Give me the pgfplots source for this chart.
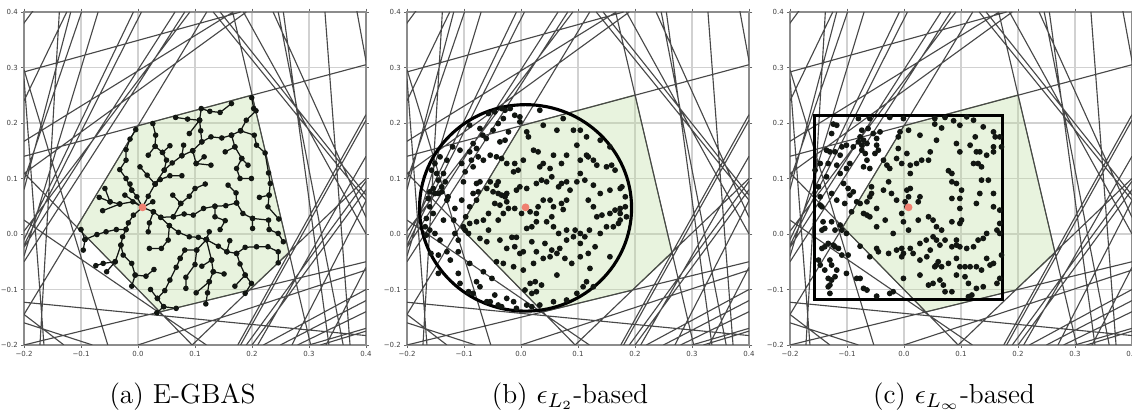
\documentclass[border=0pt]{standalone}
\usepackage{fontspec}
\newfontfamily\ticksf{DejaVu Sans}
\usepackage{pgfplots}
\pgfplotsset{compat=1.18}

\definecolor{cline}{RGB}{72,72,72}
\definecolor{polyg}{RGB}{190,220,160}
\definecolor{polyedge}{RGB}{110,130,95}
\definecolor{dotc}{RGB}{18,22,18}
\definecolor{salmon}{RGB}{240,128,112}

\pgfplotsset{
  panel/.style={
    scale only axis, width=136.8pt, height=133.2pt, anchor=south west,
    xmin=-0.2, xmax=0.4, ymin=-0.2, ymax=0.4,
    xtick={-0.2,-0.1,0,0.1,0.2,0.3,0.4}, ytick={-0.2,-0.1,0,0.1,0.2,0.3,0.4},
    xticklabels={−0.2,−0.1,0.0,0.1,0.2,0.3,0.4},
    yticklabels={−0.2,−0.1,0.0,0.1,0.2,0.3,0.4},
    grid=major, major grid style={black!18, line width=0.45pt},
    tick align=outside, major tick length=1.3pt,
    tick style={black!60, line width=0.3pt},
    axis line style={black!45, line width=0.45pt},
    ticklabel style={font=\ticksf\fontsize{2.8}{3}\selectfont, text=black!75, inner sep=1pt},
  },
}

% the same half-planes in every panel
\newcommand{\constraints}{%
\addplot[cline, line width=0.45pt, unbounded coords=jump] coordinates {
(-0.25,0.31) (-0.15,0.45) (nan,nan)
(-0.2,0.292) (0.18,0.4) (nan,nan)
(-0.2,0.167) (0.167,0.4) (nan,nan)
(-0.2,0.109) (0.19,0.4) (nan,nan)
(-0.2,0.14) (0.4,0.305) (nan,nan)
(-0.2,0.24) (-0.125,0.4) (nan,nan)
(-0.2,0.097) (-0.099,0.4) (nan,nan)
(-0.2,0.08) (-0.118,0.4) (nan,nan)
(-0.2,-0.04) (-0.07,0.4) (nan,nan)
(-0.2,-0.01) (-0.008,0.4) (nan,nan)
(-0.2,-0.02) (0.006,0.4) (nan,nan)
(-0.2,-0.024) (0.065,0.4) (nan,nan)
(-0.2,-0.05) (0.082,0.4) (nan,nan)
(-0.2,0.005) (0.091,0.4) (nan,nan)
(-0.2,-0.145) (0.1206,0.4) (nan,nan)
(-0.138,0.4) (-0.172,-0.2) (nan,nan)
(-0.2,0.296) (-0.053,-0.2) (nan,nan)
(-0.2,0.28) (-0.165,-0.2) (nan,nan)
(-0.2,0.11) (0.095,-0.2) (nan,nan)
(-0.2,0.025) (0.12,-0.2) (nan,nan)
(-0.2,-0.145) (-0.13,-0.2) (nan,nan)
(-0.2,-0.16) (-0.08,-0.2) (nan,nan)
(-0.2,-0.2) (0.4,-0.05) (nan,nan)
(-0.2,-0.123) (0.4,-0.183) (nan,nan)
(0.095,-0.2) (0.4,0.1) (nan,nan)
(0.166,0.4) (0.303,-0.2) (nan,nan)
(0.328,0.4) (0.372,-0.2) (nan,nan)
(0.37,0.48) (0.42,0.2) (nan,nan)
(0.132,0.4) (0.4,0.061) (nan,nan)
(0.144,0.4) (0.4,0.07) (nan,nan)
(0.237,0.4) (0.4,0.03) (nan,nan)
(0.246,0.4) (0.36,-0.2) (nan,nan)
(0.185,0.4) (0.4,0.0) (nan,nan)
(0.255,0.4) (0.335,-0.2) (nan,nan)
(0.175,-0.2) (0.4,0.215) (nan,nan)
(0.18,-0.2) (0.4,0.205) (nan,nan)
(0.19,-0.2) (0.4,0.095) (nan,nan)
(0.2,-0.2) (0.4,0.08) (nan,nan)
(0.21,-0.2) (0.4,0.14) (nan,nan)
(0.0,-0.2) (0.4,-0.065) (nan,nan)
(0.22,-0.2) (0.4,-0.1) (nan,nan)
(0.25,-0.2) (0.4,-0.12) (nan,nan)
(0.28,-0.2) (0.4,-0.14) (nan,nan)
(0.32,-0.2) (0.4,-0.175) (nan,nan)
(0.3,-0.2) (0.4,-0.17) (nan,nan)
(0.27,-0.2) (0.4,0.06) (nan,nan)
(0.33,-0.2) (0.4,-0.06)
};}

\newcommand{\feasible}{%
\addplot[fill=polyg, fill opacity=0.35, draw=polyedge, line width=0.4pt] coordinates {
(-0.1073,0.0126) (0.0,0.195) (0.2,0.2505) (0.265,-0.034) (0.1955,-0.101) (0.0383,-0.1404)
} -- cycle;}

\newcommand{\rootpt}{%
\addplot[only marks, mark=*, mark size=1.35pt, color=salmon] coordinates {(0.008,0.048)};}

\begin{document}
\begin{tikzpicture}
\useasboundingbox (0,0) rectangle (452.8pt,164.8pt);

% (a) tree
\begin{axis}[panel, at={(9.6pt,26.8pt)}]
\feasible
\constraints
\addplot[dotc, line width=0.5pt, unbounded coords=jump, mark=*, mark size=0.85pt,
  mark options={solid, fill=dotc, draw=dotc}] coordinates {
(0.008,0.048) (0.018,0.068) (0.030,0.090) (0.046,0.115) (0.060,0.128) (0.077,0.141) (0.096,0.150) (0.112,0.166) (0.128,0.175) (0.147,0.173) (0.164,0.178) (0.180,0.186) (0.190,0.205) (0.207,0.222) (0.203,0.226) (0.1995,0.2456) (nan,nan)
(0.112,0.166) (0.110,0.186) (0.108,0.205) (0.111,0.226) (0.126,0.221) (0.144,0.219) (0.164,0.235) (nan,nan)
(0.108,0.205) (0.087,0.207) (0.066,0.210) (nan,nan)
(0.108,0.205) (0.090,0.181) (nan,nan)
(0.096,0.150) (0.102,0.127) (0.116,0.139) (nan,nan)
(0.102,0.127) (0.128,0.124) (nan,nan)
(0.077,0.141) (0.080,0.160) (nan,nan)
(0.030,0.090) (0.039,0.098) (0.056,0.105) (0.077,0.105) (nan,nan)
(0.030,0.090) (0.016,0.106) (0.0035,0.121) (nan,nan)
(0.180,0.186) (0.204,0.178) (0.208,0.160) (0.223,0.146) (0.229,0.110) (0.232,0.091) (0.230,0.070) (0.228,0.049) (0.247,0.027) (nan,nan)
(0.230,0.070) (0.213,0.066) (nan,nan)
(0.164,0.178) (0.170,0.157) (0.153,0.148) (nan,nan)
(0.170,0.157) (0.182,0.136) (0.193,0.124) (nan,nan)
(0.182,0.136) (0.173,0.118) (0.179,0.100) (0.199,0.100) (nan,nan)
(0.046,0.115) (0.050,0.133) (0.043,0.147) (0.030,0.158) (0.031,0.178) (0.026,0.199) (nan,nan)
(0.043,0.147) (0.056,0.159) (nan,nan)
(0.030,0.158) (0.018,0.142) (nan,nan)
(0.008,0.048) (-0.002,0.067) (-0.011,0.079) (-0.021,0.100) (-0.032,0.116) (-0.021,0.133) (-0.021,0.152) (-0.014,0.171) (-0.004,0.188) (nan,nan)
(-0.011,0.079) (-0.014,0.090) (nan,nan)
(0.008,0.048) (-0.009,0.058) (-0.032,0.054) (-0.049,0.058) (-0.068,0.066) (nan,nan)
(-0.049,0.058) (-0.058,0.082) (nan,nan)
(-0.032,0.054) (-0.062,0.042) (nan,nan)
(0.008,0.048) (-0.023,0.070) (nan,nan)
(0.008,0.048) (-0.008,0.034) (-0.017,0.020) (-0.021,0.008) (-0.038,0.008) (-0.056,0.004) (-0.072,-0.001) (-0.093,-0.010) (-0.100,0.008) (nan,nan)
(-0.093,-0.010) (-0.096,-0.029) (nan,nan)
(-0.021,0.008) (-0.027,-0.005) (-0.030,-0.020) (-0.026,-0.038) (-0.011,-0.053) (-0.005,-0.074) (0.014,-0.076) (0.028,-0.064) (nan,nan)
(-0.030,-0.020) (-0.040,-0.050) (-0.055,-0.068) (nan,nan)
(-0.040,-0.050) (-0.061,-0.053) (-0.074,-0.057) (nan,nan)
(-0.005,-0.074) (-0.011,-0.094) (nan,nan)
(0.008,0.048) (0.026,0.058) (nan,nan)
(0.008,0.048) (0.027,0.040) (0.040,0.030) (0.062,0.031) (0.081,0.036) (0.097,0.034) (0.115,0.046) (0.135,0.050) (0.154,0.051) (0.173,0.056) (0.184,0.037) (0.201,0.028) (0.201,0.010) (nan,nan)
(0.173,0.056) (0.172,0.074) (0.158,0.088) (nan,nan)
(0.135,0.050) (0.135,0.031) (0.153,0.024) (0.144,0.008) (nan,nan)
(0.062,0.031) (0.075,0.055) (0.090,0.068) (0.100,0.082) (0.118,0.090) (nan,nan)
(0.075,0.055) (0.061,0.070) (nan,nan)
(0.201,0.028) (0.229,0.025) (0.230,0.008) (0.246,0.001) (0.255,-0.014) (nan,nan)
(0.027,0.040) (0.020,0.020) (0.018,0.004) (nan,nan)
(0.040,0.030) (0.055,0.015) (0.071,0.003) (0.090,-0.005) (0.106,-0.006) (0.120,-0.010) (nan,nan)
(0.120,-0.010) (0.103,-0.029) (0.082,-0.029) (0.074,-0.044) (nan,nan)
(0.120,-0.010) (0.129,-0.047) (0.132,-0.068) (0.125,-0.086) (0.122,-0.106) (0.119,-0.126) (nan,nan)
(0.125,-0.086) (0.102,-0.106) (nan,nan)
(0.132,-0.068) (0.151,-0.072) (nan,nan)
(0.129,-0.047) (0.112,-0.058) (nan,nan)
(0.120,-0.010) (0.141,-0.022) (0.156,-0.032) (0.173,-0.035) (0.179,-0.054) (0.188,-0.074) (0.199,-0.089) (0.188,-0.107) (nan,nan)
(0.188,-0.074) (0.170,-0.094) (nan,nan)
(0.156,-0.032) (0.161,-0.012) (nan,nan)
(0.173,-0.035) (0.188,-0.024) (0.208,-0.023) (0.228,-0.023) (0.246,-0.032) (0.246,-0.052) (nan,nan)
(0.120,-0.010) (0.125,0.004) (nan,nan)
(0.055,0.015) (0.053,-0.011) (0.041,-0.026) (0.020,-0.026) (nan,nan)
(0.074,-0.044) (0.067,-0.060) (0.056,-0.083) (0.047,-0.102) (0.034,-0.116) (0.045,-0.131) (0.067,-0.134) (nan,nan)
(0.034,-0.116) (0.022,-0.100) (nan,nan)
(0.045,-0.131) (0.033,-0.142) (nan,nan)
(0.103,-0.029) (0.100,-0.055) (0.084,-0.078) (0.084,-0.098)
};
\rootpt
\end{axis}
\node[anchor=base, font=\fontsize{11}{13}\selectfont] at (73pt,3.5pt) {(a) E-GBAS};

% (b) L2 ball
\begin{axis}[panel, at={(162.8pt,26.8pt)}]
\feasible
\constraints
\addplot[only marks, mark=*, mark size=0.95pt, dotc] coordinates {
(-0.057,0.217) (-0.046,0.220) (-0.034,0.226) (-0.028,0.223) (-0.019,0.226) (-0.011,0.214) (-0.002,0.211) (-0.031,0.208) (-0.040,0.199) (-0.002,0.202)
(-0.090,0.196) (-0.072,0.190) (-0.049,0.187) (-0.022,0.184) (-0.028,0.169) (-0.037,0.166) (-0.061,0.172) (-0.067,0.178) (-0.084,0.163) (-0.120,0.157)
(-0.107,0.151) (-0.090,0.148) (-0.078,0.154) (-0.075,0.139) (-0.066,0.133) (-0.054,0.142) (-0.043,0.139) (-0.034,0.136) (-0.104,0.127) (-0.098,0.112)
(-0.101,0.094) (-0.087,0.133) (-0.084,0.121) (-0.072,0.094) (-0.078,0.091) (-0.130,0.133) (-0.142,0.139) (-0.151,0.127) (-0.157,0.115) (-0.148,0.109)
(-0.136,0.109) (-0.145,0.097) (-0.133,0.094) (-0.139,0.085) (-0.154,0.082) (-0.160,0.076) (-0.151,0.073) (-0.145,0.073) (-0.139,0.076) (-0.128,0.067)
(-0.163,0.064) (-0.130,0.061) (-0.104,0.061) (-0.116,0.046) (-0.090,0.049) (-0.084,0.073) (-0.078,0.061) (-0.160,0.049) (-0.154,0.037) (-0.166,0.028)
(-0.168,0.013) (-0.160,0.007) (-0.166,-0.002) (-0.151,0.001) (-0.142,-0.011) (-0.116,0.001) (-0.110,-0.011) (-0.101,0.013) (-0.097,0.031) (-0.136,0.025)
(-0.118,0.025) (0.033,0.223) (0.074,0.208) (0.039,0.196) (0.063,0.187) (0.092,0.187) (0.104,0.187) (0.115,0.175) (0.139,0.169) (0.156,0.157)
(0.010,0.184) (0.013,0.175) (0.022,0.151) (0.030,0.148) (0.039,0.127) (-0.005,0.115) (-0.013,0.112) (-0.025,0.127) (-0.011,0.127) (0.004,0.133)
(-0.040,0.094) (-0.043,0.088) (-0.054,0.094) (-0.060,0.082) (-0.075,0.076) (-0.049,0.076) (-0.040,0.073) (-0.034,0.070) (-0.028,0.067) (-0.025,0.073)
(-0.046,0.055) (-0.037,0.052) (-0.025,0.058) (-0.008,0.079) (-0.002,0.085) (0.010,0.082) (0.027,0.091) (0.036,0.097) (0.045,0.094) (0.054,0.103)
(0.066,0.085) (0.071,0.091) (0.080,0.094) (0.086,0.079) (0.098,0.094) (0.080,0.061) (0.071,0.055) (0.074,0.044) (0.057,0.049) (0.051,0.061)
(0.039,0.061) (0.030,0.049) (0.027,0.037) (0.016,0.040) (0.001,0.037) (-0.011,0.046) (-0.022,0.046) (-0.031,0.037) (-0.040,0.025) (-0.057,0.037)
(-0.066,0.025) (-0.078,0.022) (-0.090,0.019) (-0.098,0.007) (-0.092,0.001) (-0.057,0.007) (-0.072,-0.008) (-0.060,-0.014) (-0.037,-0.011) (-0.016,-0.006)
(-0.008,-0.006) (0.010,0.010) (0.019,0.013) (0.027,0.022) (0.045,0.022) (0.054,0.031) (0.057,0.013) (0.066,0.001) (0.080,0.007) (0.095,0.007)
(0.104,0.001) (0.112,-0.005) (0.120,0.007) (0.104,-0.017) (0.092,-0.005) (0.080,-0.011) (0.068,-0.026) (0.054,-0.029) (0.042,-0.017) (0.027,-0.032)
(0.019,-0.014) (0.004,-0.032) (-0.002,-0.035) (-0.011,-0.023) (-0.025,-0.026) (-0.043,-0.050) (-0.031,-0.053) (-0.013,-0.059) (0.004,-0.065) (0.022,-0.053)
(0.039,-0.044) (0.051,-0.041) (0.063,-0.035) (0.077,-0.044) (0.089,-0.053) (0.104,-0.041) (0.118,-0.035) (0.130,-0.023) (0.139,0.001) (0.150,0.013)
(0.162,0.013) (0.171,0.019) (0.174,0.025) (0.174,0.037) (0.185,0.031) (0.183,0.049) (0.174,0.046) (0.165,0.043) (0.156,0.037) (0.142,0.034)
(0.133,0.031) (0.127,0.049) (0.118,0.061) (0.139,0.073) (0.156,0.079) (0.174,0.082) (0.183,0.067) (0.177,0.085) (0.104,0.109) (0.112,0.097)
(0.127,0.088) (0.115,0.142) (0.118,0.139) (0.127,0.133) (0.133,0.124) (0.150,0.121) (0.159,0.124) (0.165,0.115) (0.098,0.160) (0.080,0.142)
(0.057,0.142) (0.033,0.121) (0.104,0.133) (0.071,0.127) (0.051,0.118)
(-0.145,-0.038) (-0.110,-0.032) (-0.090,-0.053) (-0.145,-0.071) (-0.110,-0.071) (-0.130,-0.032) (-0.124,-0.047) (-0.158,-0.035)
(-0.092,-0.104) (-0.078,-0.086) (-0.054,-0.122) (-0.046,-0.110) (-0.040,-0.128) (-0.025,-0.116) (-0.013,-0.122) (-0.008,-0.134) (-0.072,-0.095) (-0.060,-0.122)
(-0.051,-0.080) (0.016,-0.089) (0.025,-0.086) (0.027,-0.104) (0.019,-0.107) (0.007,-0.101) (0.036,-0.092) (0.109,-0.095) (0.115,-0.086) (0.098,-0.107)
(0.080,-0.119) (0.057,-0.122) (0.033,-0.128) (0.019,-0.131) (0.010,-0.128) (0.127,-0.095) (-0.107,-0.089) (-0.084,-0.107) (-0.034,-0.131)
(0.121,-0.062) (0.063,-0.074) (-0.066,-0.068) (0.156,-0.041)
};
\rootpt
\draw[black, line width=1.25pt] (axis cs:0.008,0.047) ellipse [x radius=0.186, y radius=0.186];
\end{axis}
\node[anchor=base, font=\fontsize{11}{13}\selectfont] at (228pt,3.5pt) {(b) $\epsilon_{L_2}$-based};

% (c) L-infinity box
\begin{axis}[panel, at={(316pt,26.8pt)}]
\feasible
\constraints
\addplot[only marks, mark=*, mark size=0.95pt, dotc] coordinates {
(-0.124,0.198) (-0.118,0.196) (-0.127,0.181) (-0.080,0.208) (-0.060,0.208) (-0.025,0.210) (-0.001,0.208) (0.054,0.208) (0.072,0.210) (0.087,0.204)
(0.098,0.196) (0.110,0.211) (0.122,0.205) (0.139,0.193) (0.157,0.184) (0.168,0.175) (0.160,0.175) (0.066,0.191) (0.054,0.198) (0.028,0.178)
(0.008,0.187) (-0.007,0.184) (-0.010,0.175) (-0.074,0.187) (-0.077,0.175) (-0.071,0.169) (-0.063,0.190) (-0.054,0.181) (-0.048,0.172) (-0.042,0.184)
(-0.080,0.166) (-0.074,0.160) (-0.065,0.163) (-0.089,0.157) (-0.101,0.160) (-0.109,0.157) (-0.136,0.151) (-0.130,0.148) (-0.121,0.148) (-0.112,0.142)
(-0.048,0.160) (-0.051,0.145) (-0.045,0.151) (-0.068,0.145) (-0.074,0.151) (-0.065,0.133) (-0.036,0.133) (-0.030,0.124) (-0.025,0.118) (-0.060,0.118)
(-0.071,0.121) (-0.095,0.127) (-0.101,0.118) (-0.118,0.124) (-0.133,0.127) (-0.147,0.127) (-0.156,0.115) (-0.027,0.094) (-0.010,0.154) (-0.013,0.136)
(0.005,0.145) (-0.004,0.127) (0.011,0.124) (0.011,0.109) (0.022,0.127) (0.031,0.133) (0.043,0.133) (0.046,0.148) (0.057,0.169) (0.092,0.163)
(0.098,0.148) (0.116,0.160) (0.125,0.175) (0.127,0.148) (0.133,0.148) (0.130,0.127) (0.136,0.121) (0.145,0.142) (0.157,0.148) (0.157,0.157)
(0.171,0.157) (0.122,0.127) (0.148,0.097) (0.136,0.097) (0.133,0.073) (0.127,0.055) (0.157,0.073) (0.168,0.043) (0.157,0.049) (0.168,0.019)
(0.168,0.001) (0.163,0.007) (0.145,0.001) (0.139,-0.008) (0.130,-0.011) (0.122,-0.023) (0.110,-0.026) (0.098,-0.023) (0.092,-0.020) (0.084,-0.023)
(0.072,-0.011) (0.057,-0.011) (0.039,-0.011) (0.028,-0.017) (0.016,-0.035) (0.011,-0.026) (-0.004,-0.026) (-0.001,-0.035) (-0.004,-0.041) (-0.019,0.001)
(-0.033,0.025) (-0.048,0.013) (-0.060,0.031) (-0.065,0.034) (-0.071,0.037) (-0.077,0.055) (-0.065,0.058) (-0.060,0.067) (-0.057,0.073) (-0.057,0.085)
(-0.048,0.046) (-0.036,0.079) (-0.022,0.073) (-0.013,0.061) (0.005,0.079) (0.011,0.082) (0.008,0.067) (0.002,0.058) (0.005,0.049) (-0.004,0.037)
(-0.001,0.022) (0.008,0.007) (0.025,0.025) (0.028,0.067) (0.025,0.058) (0.043,0.031) (0.051,0.025) (0.057,0.013) (0.066,0.007) (0.084,0.022)
(0.098,0.019) (0.101,0.025) (0.092,-0.011) (0.051,-0.005) (0.063,-0.020) (0.046,-0.029) (0.060,-0.050) (0.057,-0.056) (0.066,-0.059) (0.078,-0.053)
(0.092,-0.044) (0.098,-0.059) (0.107,-0.059) (0.116,-0.059) (0.127,-0.059) (0.136,-0.065) (0.145,-0.044) (0.151,-0.056) (0.157,-0.053) (0.171,-0.038)
(0.054,-0.059) (0.040,-0.041) (0.028,-0.047) (-0.013,-0.029) (-0.027,-0.035) (-0.045,-0.032) (-0.048,-0.026) (-0.060,-0.041) (-0.077,-0.022) (-0.083,0.058)
(-0.098,0.082) (-0.095,0.070) (-0.089,0.076) (-0.104,0.055) (-0.092,0.040)
(0.084,0.094) (0.092,0.091) (0.101,0.079) (0.084,0.064) (0.098,0.064) (0.098,0.046) (0.084,0.109) (0.078,0.114)
(-0.147,0.067) (-0.147,0.052) (-0.144,0.049) (-0.142,0.022) (-0.144,0.007) (-0.139,0.010) (-0.127,0.022) (-0.121,0.007) (-0.112,0.016) (-0.109,0.007)
(-0.133,-0.017) (-0.139,-0.023) (-0.124,-0.020) (-0.121,-0.023) (-0.115,-0.026) (-0.101,0.001) (-0.109,-0.038) (-0.098,-0.038) (-0.144,-0.026) (-0.147,-0.056)
(-0.139,-0.065) (-0.127,-0.056) (-0.121,-0.077) (-0.118,-0.065) (-0.150,-0.047) (-0.130,-0.047) (-0.101,-0.071) (-0.083,-0.080) (-0.150,0.085) (-0.136,0.103)
(-0.112,0.109) (-0.106,0.091) (-0.127,0.073) (-0.118,0.061)
(-0.133,-0.080) (-0.127,-0.083) (-0.130,-0.092) (-0.133,-0.095) (-0.130,-0.107) (-0.077,-0.080) (-0.071,-0.098) (-0.065,-0.101) (-0.048,-0.112) (-0.025,-0.107)
(-0.019,-0.104) (-0.001,-0.080) (0.113,-0.089) (0.063,-0.083) (0.072,-0.104) (0.084,-0.104) (0.127,-0.098) (0.139,-0.095) (0.163,-0.089) (0.168,-0.080)
(0.043,-0.092) (0.051,-0.089) (0.069,-0.092) (0.113,-0.113) (0.119,-0.110) (0.028,-0.074) (0.092,-0.074) (0.107,-0.077)
};
\rootpt
\addplot[black, line width=1.25pt] coordinates {(-0.157,-0.118) (0.173,-0.118) (0.173,0.213) (-0.157,0.213)} -- cycle;
\end{axis}
\node[anchor=base, font=\fontsize{11}{13}\selectfont] at (381.6pt,3.5pt) {(c) $\epsilon_{L_\infty}$-based};
\end{tikzpicture}
\end{document}
